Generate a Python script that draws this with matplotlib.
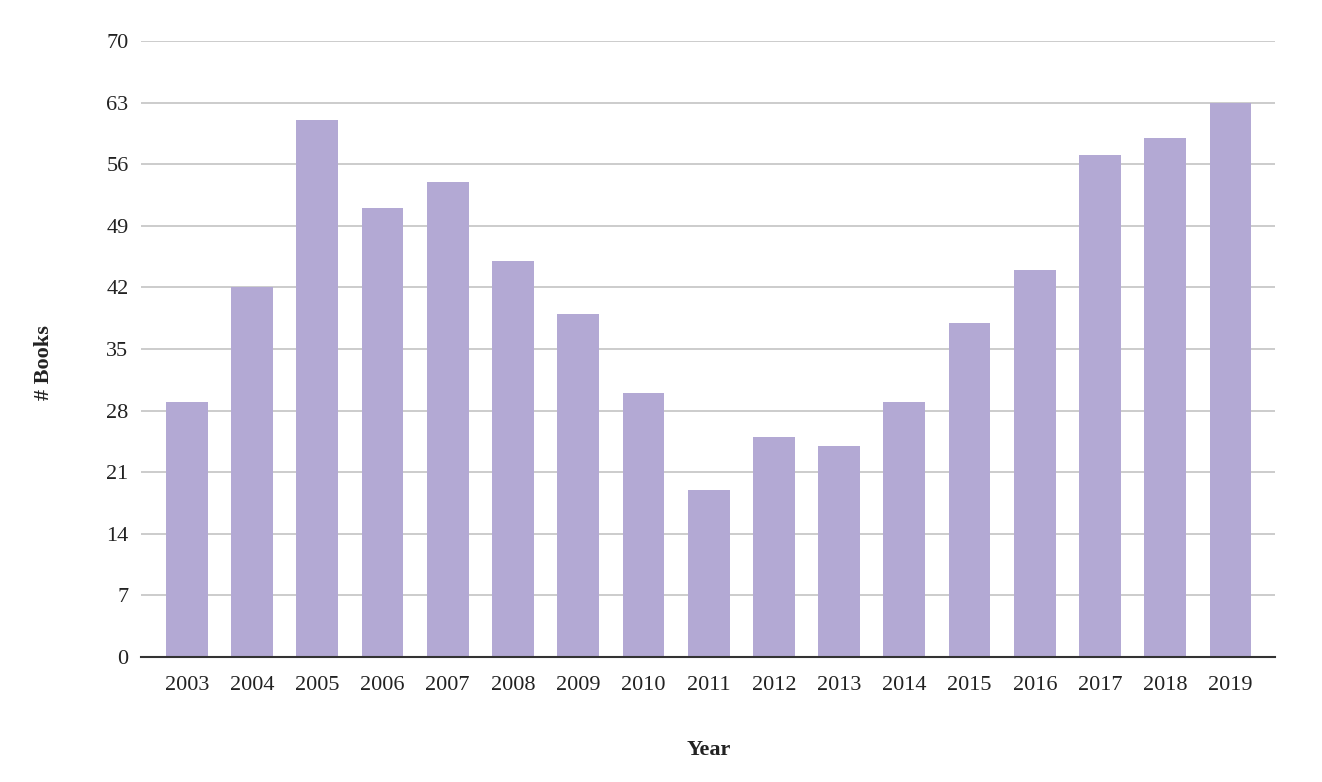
import matplotlib
matplotlib.use("Agg")
import matplotlib.pyplot as plt

years = ["2003", "2004", "2005", "2006", "2007", "2008", "2009", "2010", "2011",
         "2012", "2013", "2014", "2015", "2016", "2017", "2018", "2019"]
books = [29, 42, 61, 51, 54, 45, 39, 30, 19, 25, 24, 29, 38, 44, 57, 59, 63]
yticks = [0, 7, 14, 21, 28, 35, 42, 49, 56, 63, 70]

plt.rcParams['font.family'] = ['Liberation Serif', 'DejaVu Serif']

fig = plt.figure(figsize=(13.22, 7.82), dpi=100)
ax = fig.add_axes([0.1067, 0.1598, 0.8577, 0.7878])

x = list(range(len(years)))
ax.bar(x, books, width=0.64, color="#b3a9d4", zorder=2)

ax.set_ylim(0, 70)
ax.set_xlim(-0.7, len(years) - 1 + 0.68)
ax.set_yticks(yticks)
ax.set_yticklabels([str(t) for t in yticks], fontsize=16, color="#222222")
ax.set_xticks(x)
ax.set_xticklabels(years, fontsize=16, color="#222222")
ax.grid(axis="y", color="#c8c8c8", linewidth=1.3, zorder=0)
ax.tick_params(axis="y", length=0, pad=9)
ax.tick_params(axis="x", length=0, pad=14)
for s in ["top", "right", "left"]:
    ax.spines[s].set_visible(False)
ax.spines["bottom"].set_color("#333333")
ax.spines["bottom"].set_linewidth(1.5)
ax.spines["bottom"].set_zorder(3)

fig.text(0.536, 0.041, "Year", ha="center", va="center", fontsize=16, fontweight="bold", color="#222222")
fig.text(0.033, 0.537, "# Books", ha="center", va="center", rotation=90, fontsize=16, fontweight="bold", color="#222222")

fig.savefig("out.png", dpi=100)
